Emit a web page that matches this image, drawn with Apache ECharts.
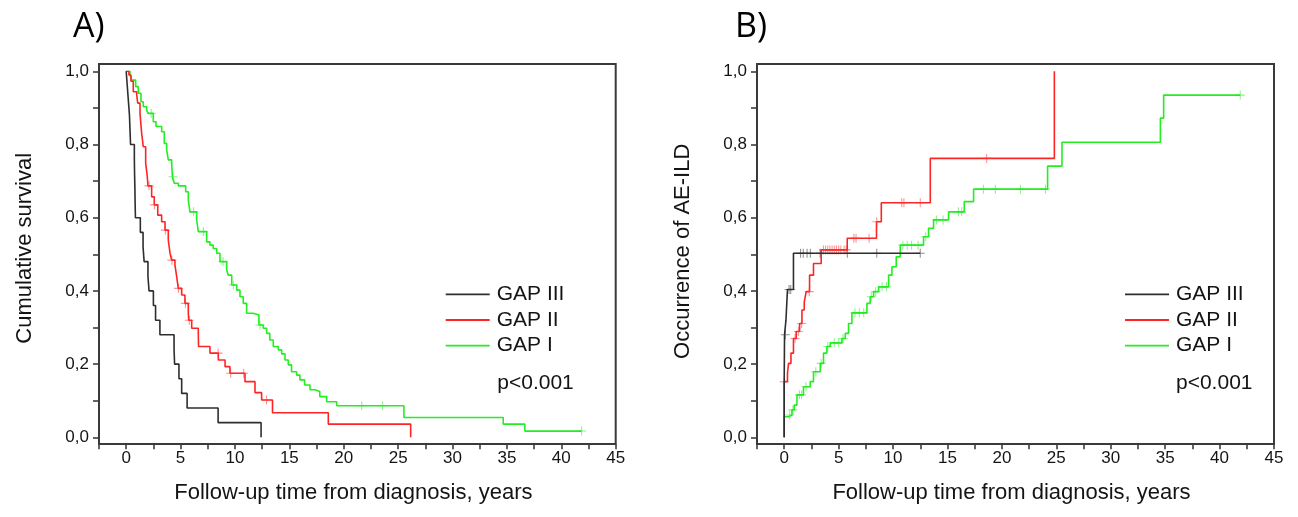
<!DOCTYPE html>
<html>
<head>
<meta charset="utf-8">
<script src="https://cdn.jsdelivr.net/npm/echarts@6/dist/echarts.min.js"></script>
<style>
html,body{margin:0;padding:0;background:#fff;}
#chart{width:1298px;height:517px;}
</style>
</head>
<body>
<div id="chart"></div>
<script>
// ---------- DATA ----------
const seriesNames = ['GAP III', 'GAP II', 'GAP I'];
const xTickLabels = [0, 5, 10, 15, 20, 25, 30, 35, 40, 45];
const yTickLabels = ['0,0', '0,2', '0,4', '0,6', '0,8', '1,0'];

// Panel A: cumulative survival (time in years, survival)
const aGap3 = [[0,1],[0.1,0.96],[0.2,0.92],[0.3,0.88],[0.35,0.84],[0.4,0.80],[0.75,0.76],[0.77,0.72],[0.8,0.68],[0.82,0.64],[0.85,0.60],[1.3,0.56],[1.55,0.52],[1.65,0.48],[2.0,0.44],[2.1,0.40],[2.5,0.36],[2.7,0.32],[3.1,0.28],[4.4,0.24],[4.45,0.20],[4.85,0.16],[5.1,0.12],[5.6,0.08],[8.45,0.04],[12.4,0]];
const aGap2 = [[0,1],[0.25,0.99],[0.44,0.973],[0.65,0.944],[0.97,0.935],[1.06,0.913],[1.27,0.885],[1.42,0.831],[1.57,0.794],[1.79,0.749],[1.94,0.712],[2.0,0.687],[2.34,0.657],[2.58,0.635],[2.9,0.607],[3.26,0.589],[3.57,0.566],[3.87,0.539],[4.03,0.503],[4.18,0.484],[4.48,0.471],[4.64,0.439],[4.79,0.407],[5.1,0.389],[5.4,0.366],[5.71,0.339],[5.75,0.32],[6.02,0.298],[6.63,0.284],[6.65,0.248],[7.7,0.23],[8.47,0.211],[9.09,0.193],[9.54,0.175],[10.92,0.152],[11.84,0.122],[12.45,0.102],[13.45,0.067],[18.58,0.036],[26.15,0]];
const aGap1 = [[0,1],[0.35,0.99],[0.5,0.976],[0.87,0.958],[1.11,0.94],[1.36,0.917],[1.57,0.903],[1.88,0.894],[2.03,0.885],[2.49,0.862],[2.74,0.849],[3.26,0.835],[3.5,0.803],[3.72,0.785],[3.87,0.758],[4.18,0.749],[4.25,0.712],[4.42,0.694],[4.79,0.687],[5.47,0.671],[5.71,0.648],[5.86,0.616],[6.48,0.594],[6.63,0.562],[7.4,0.534],[7.7,0.525],[8.0,0.516],[8.32,0.503],[8.62,0.48],[9.24,0.457],[9.38,0.443],[9.7,0.416],[10.16,0.402],[10.46,0.384],[10.76,0.366],[11.07,0.339],[11.68,0.334],[12.2,0.307],[12.6,0.298],[12.91,0.284],[13.2,0.266],[13.52,0.248],[13.98,0.239],[14.29,0.228],[14.6,0.211],[14.9,0.198],[15.2,0.179],[15.67,0.17],[15.97,0.157],[16.4,0.143],[16.9,0.13],[17.35,0.125],[17.8,0.111],[18.43,0.097],[19.35,0.086],[25.53,0.054],[34.66,0.036],[36.65,0.017],[41.87,0.017]];
// censored times, panel A
const aGap3Cens = [];
const aGap2Cens = [2.1, 2.6, 3.6, 4.2, 4.8, 5.45, 5.8, 8.45, 9.6, 10.8, 12.9];
const aGap1Cens = [2.3, 4.3, 6.2, 7.1, 8.9, 9.85, 12.3, 21.65, 23.57, 41.87];

// Panel B: occurrence of AE-ILD (time in years, cumulative incidence)
const bGap3 = [[0,0],[0,0.16],[0.03,0.28],[0.16,0.32],[0.3,0.404],[0.85,0.503],[12.5,0.503]];
const bGap2 = [[0,0],[0,0.056],[0,0.152],[0.3,0.175],[0.4,0.202],[0.62,0.23],[0.85,0.27],[1.1,0.289],[1.41,0.311],[1.63,0.348],[1.84,0.37],[2.02,0.398],[2.33,0.443],[2.69,0.475],[3.4,0.512],[5.79,0.544],[8.48,0.589],[8.92,0.641],[13.42,0.762],[24.82,1.0]];
const bGap1 = [[0,0],[0,0.056],[0.4,0.061],[0.71,0.075],[0.92,0.088],[1.17,0.116],[1.77,0.138],[2.39,0.152],[2.69,0.179],[3.31,0.202],[3.61,0.23],[3.92,0.248],[4.23,0.258],[5.3,0.27],[5.61,0.284],[5.91,0.311],[6.22,0.34],[7.6,0.366],[7.9,0.384],[8.21,0.398],[8.67,0.411],[9.59,0.443],[9.9,0.466],[10.29,0.493],[10.66,0.525],[12.8,0.548],[13.26,0.571],[13.72,0.594],[15.1,0.616],[16.54,0.644],[17.4,0.678],[24.2,0.741],[25.52,0.806],[34.56,0.872],[34.86,0.935],[41.9,0.935]];
// censored times, panel B
const bGap3Cens = [0.1, 0.45, 0.6, 1.5, 1.75, 2.1, 2.4, 3.3, 5.8, 8.5, 12.5];
const bGap2Cens = [0.0, 1.0, 1.3, 1.6, 2.3, 3.6, 3.8, 4.0, 4.2, 4.4, 4.6, 4.8, 5.0, 5.2, 5.5, 5.7, 6.4, 6.6, 7.8, 8.5, 10.8, 11.0, 12.5, 18.6];
const bGap1Cens = [0.5, 0.8, 1.4, 1.6, 2.0, 2.9, 3.4, 4.0, 4.6, 5.0, 5.4, 6.5, 6.9, 7.3, 8.0, 8.4, 9.0, 9.4, 10.9, 11.3, 11.7, 12.3, 13.0, 14.0, 14.6, 16.0, 16.3, 18.3, 19.4, 21.7, 24.0, 41.9];

// ---------- STYLE ----------
const colors = ['#2e2e2e', '#ff2424', '#22ee22'];
const censColors = ['rgba(60,60,60,0.7)', 'rgba(255,50,50,0.65)', 'rgba(40,230,40,0.65)'];
const FONT = 'Liberation Sans, Arial, sans-serif';
const TXT = '#141414';
const plus = 'path://M4.4,0H5.6V10H4.4ZM0,4.4H10V5.6H0Z';

function stepValue(curve, t) {
  let v = curve[0][1];
  for (const p of curve) { if (p[0] <= t + 1e-9) v = p[1]; else break; }
  return v;
}

const chart = echarts.init(document.getElementById('chart'), null, {renderer: 'canvas'});

const grids = [
  {left: 99, right: 1298 - 615.7, top: 71.3, bottom: 517 - 437.3},
  {left: 757, right: 1298 - 1274, top: 71.3, bottom: 517 - 437.3}
];

function xAxisDef(gi) {
  return {
    type: 'value', gridIndex: gi, min: -2.5, max: 45, interval: 2.5, offset: 7,
    axisLine: {show: false, onZero: false},
    axisTick: {show: true, length: 5, lineStyle: {color: '#333', width: 1.5}},
    splitLine: {show: false},
    axisLabel: {
      margin: 6, fontSize: 17, fontFamily: FONT, color: TXT,
      formatter: v => (xTickLabels.indexOf(Math.round(v * 100) / 100) >= 0 ? String(Math.round(v)) : '')
    },
    name: 'Follow-up time from diagnosis, years', nameLocation: 'middle', nameGap: 38,
    nameTextStyle: {fontSize: 22, fontFamily: FONT, color: TXT, padding: [0, 8, 0, 0]}
  };
}
function yAxisDef(gi, name, pad) {
  return {
    type: 'value', gridIndex: gi, min: 0, max: 1, interval: 0.1,
    axisLine: {show: false, onZero: false},
    axisTick: {show: true, length: 6, lineStyle: {color: '#333', width: 1.5}},
    splitLine: {show: false},
    axisLabel: {
      margin: 10, fontSize: 17, fontFamily: FONT, color: TXT,
      formatter: v => { const k = Math.round(v * 10); return k % 2 === 0 ? yTickLabels[k / 2] : ''; }
    },
    name: name, nameLocation: 'middle', nameGap: 63, nameRotate: 90,
    nameTextStyle: {fontSize: 22, fontFamily: FONT, color: TXT, padding: pad}
  };
}

const series = [];
function addPanel(gi, curves, cens) {
  curves.forEach((c, i) => {
    series.push({
      type: 'line', name: seriesNames[i], xAxisIndex: gi, yAxisIndex: gi,
      data: c, step: 'end', symbol: 'none', showSymbol: false,
      lineStyle: {color: colors[i], width: 1.6}, itemStyle: {color: colors[i]},
      z: 3 + (2 - i), animation: false
    });
    if (cens[i].length) {
      series.push({
        type: 'scatter', name: seriesNames[i] + ' censored', xAxisIndex: gi, yAxisIndex: gi,
        data: cens[i].map(t => [t, stepValue(c, t)]),
        symbol: plus, symbolSize: [9, 9], itemStyle: {color: censColors[i]},
        z: 4, animation: false, silent: true
      });
    }
  });
}
addPanel(0, [aGap3, aGap2, aGap1], [aGap3Cens, aGap2Cens, aGap1Cens]);
addPanel(1, [bGap3, bGap2, bGap1], [bGap3Cens, bGap2Cens, bGap1Cens]);

function legendDef(left) {
  return {
    data: seriesNames, orient: 'vertical', left: left, top: 281.8, padding: 0,
    icon: 'rect', itemWidth: 44, itemHeight: 1.8, itemGap: 0.7,
    textStyle: {fontSize: 21, fontFamily: FONT, color: TXT, lineHeight: 21, padding: [4, 0, 0, 2]},
    selectedMode: false
  };
}

const option = {
  backgroundColor: '#ffffff',
  animation: false,
  grid: grids,
  xAxis: [xAxisDef(0), xAxisDef(1)],
  yAxis: [yAxisDef(0, 'Cumulative survival', [0, 0, 0, 12]), yAxisDef(1, 'Occurrence of AE-ILD', [0, 0, 0, 6])],
  legend: [legendDef(445.7), legendDef(1125)],
  series: series,
  graphic: [
    {type: 'rect', shape: {x: 99, y: 64, width: 516.7, height: 380}, style: {fill: 'none', stroke: '#3a3a3a', lineWidth: 2}, silent: true, z: 10},
    {type: 'rect', shape: {x: 757, y: 64, width: 517, height: 380}, style: {fill: 'none', stroke: '#3a3a3a', lineWidth: 2}, silent: true, z: 10},
    {type: 'text', x: 497.3, y: 383.3, style: {text: 'p<0.001', font: '21px Liberation Sans, Arial, sans-serif', fill: TXT, verticalAlign: 'middle'}},
    {type: 'text', x: 1176, y: 383.3, style: {text: 'p<0.001', font: '21px Liberation Sans, Arial, sans-serif', fill: TXT, verticalAlign: 'middle'}},
    {type: 'text', x: 73, y: 27, style: {text: 'A)', font: '34px Open Sans, sans-serif', fill: '#000', verticalAlign: 'middle'}},
    {type: 'text', x: 735, y: 27, style: {text: 'B)', font: '34px Open Sans, sans-serif', fill: '#000', verticalAlign: 'middle'}}
  ]
};
chart.setOption(option);
</script>
</body>
</html>
